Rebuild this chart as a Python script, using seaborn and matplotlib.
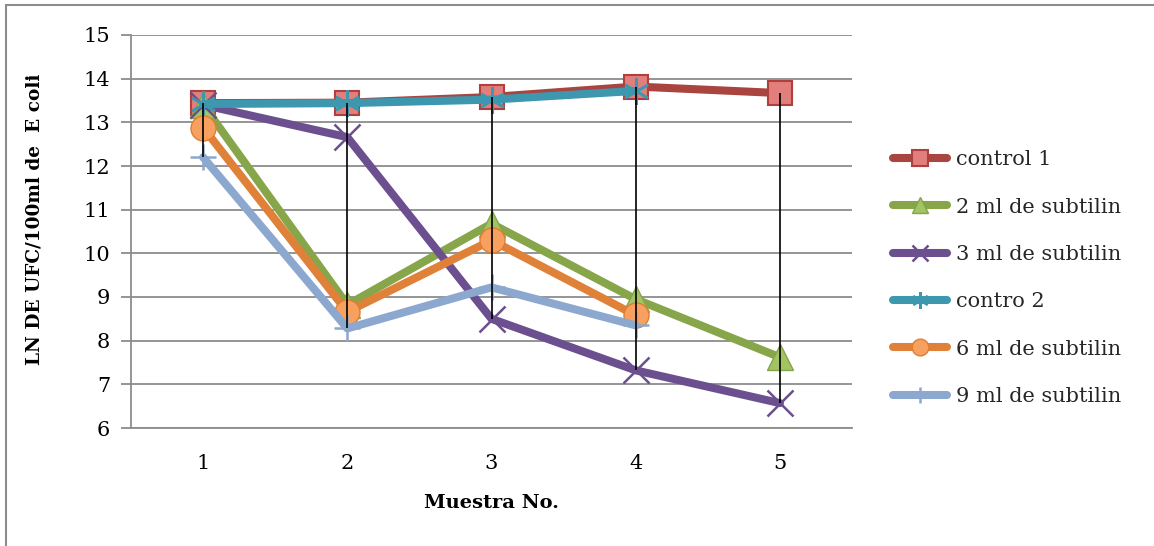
import numpy as np
import pandas as pd
import matplotlib
matplotlib.use("Agg")
import matplotlib.pyplot as plt
import matplotlib.patheffects as pe
from matplotlib.patches import Rectangle
import seaborn as sns

# Sample numbers on the x axis
muestra = [1, 2, 3, 4, 5]

# Natural log of E. coli counts (CFU / 100 ml) per treatment
control_1 = [13.44, 13.45, 13.58, 13.82, 13.67]
ml2_subtilin = [13.40, 8.82, 10.68, 8.95, 7.62]
ml3_subtilin = [13.40, 12.66, 8.50, 7.32, 6.57]
contro_2 = [13.42, 13.44, 13.52, 13.72]
ml6_subtilin = [12.88, 8.66, 10.30, 8.58]
ml9_subtilin = [12.20, 8.28, 9.22, 8.35]

series_names = ["control 1", "2 ml de subtilin", "3 ml de subtilin",
                "contro 2", "6 ml de subtilin", "9 ml de subtilin"]
series_values = [control_1, ml2_subtilin, ml3_subtilin,
                 contro_2, ml6_subtilin, ml9_subtilin]

y_ticks = list(range(6, 16))

rows = []
for name, vals in zip(series_names, series_values):
    for x, v in zip(muestra, vals):
        rows.append({"Muestra": x, "valor": v, "serie": name})
df = pd.DataFrame(rows)

sns.set_theme(style="white")
plt.rcParams["font.family"] = ["DejaVu Serif"]

styles = {
    "control 1":        dict(color="#A9443F", marker="s", ms=17, mfc="#E27F7C", mec="#B0403D", mew=1.5),
    "2 ml de subtilin": dict(color="#87A64A", marker="^", ms=19, mfc="#A2C463", mec="#86A44A", mew=1.0),
    "3 ml de subtilin": dict(color="#6B4F8E", marker="x", ms=19, mfc="none", mec="#6B4F8E", mew=1.8),
    "contro 2":         dict(color="#3D97AF", marker=(6, 2, 0), ms=19, mfc="none", mec="#3D97AF", mew=1.8),
    "6 ml de subtilin": dict(color="#E0813A", marker="o", ms=18, mfc="#F8A060", mec="#E07E30", mew=1.0),
    "9 ml de subtilin": dict(color="#8CA8CE", marker="+", ms=19, mfc="none", mec="#8CA8CE", mew=1.8),
}

fig = plt.figure(figsize=(11.54, 5.46), dpi=100)
ax = fig.add_axes([131 / 1154, 1 - 428 / 546, (852 - 131) / 1154, (428 - 35) / 546])

for i, name in enumerate(series_names):
    st = styles[name]
    sub = df[df["serie"] == name]
    sns.lineplot(data=sub, x="Muestra", y="valor", ax=ax, color=st["color"],
                 lw=5.8, marker=st["marker"], markersize=st["ms"],
                 markerfacecolor=st["mfc"], markeredgecolor=st["mec"],
                 markeredgewidth=st["mew"], label=name, zorder=3 + i,
                 solid_capstyle="round", solid_joinstyle="round")

# High-low lines spanning every series at each sample
wide = df.pivot(index="Muestra", columns="serie", values="valor")
ax.vlines(wide.index, wide.min(axis=1), wide.max(axis=1),
          color="black", lw=1.2, zorder=20)

ax.set_xlim(0.5, 5.5)
ax.set_ylim(6, 15)
ax.set_xticks(muestra)
ax.set_xticklabels([str(m) for m in muestra])
ax.set_yticks(y_ticks)
ax.set_yticklabels([str(t) for t in y_ticks])
ax.yaxis.grid(True, color="#8C8C8C", lw=1.3)
ax.xaxis.grid(False)
ax.set_axisbelow(True)

for side in ("top", "right"):
    ax.spines[side].set_visible(False)
for side in ("left", "bottom"):
    ax.spines[side].set_color("#8C8C8C")
    ax.spines[side].set_linewidth(1.3)

ax.tick_params(axis="y", which="major", left=True, length=7, width=1.3,
               color="#8C8C8C", labelsize=15, pad=8, labelcolor="black")
ax.tick_params(axis="x", which="major", bottom=False, labelsize=15, pad=13,
               labelcolor="black")

ax.set_xlabel("Muestra No.", fontsize=14, fontweight="bold", color="black")
ax.xaxis.set_label_coords(0.5, -0.167)
ax.set_ylabel("LN DE UFC/100ml de  E coli", fontsize=13.3, fontweight="bold",
              color="black")
ax.yaxis.set_label_coords(-0.121, 0.53)

leg = ax.legend(loc="upper left", bbox_to_anchor=(1.045, 0.728), frameon=False,
                fontsize=15, handlelength=2.6, handletextpad=0.45,
                labelspacing=1.36, borderaxespad=0)
for h in leg.legend_handles:
    h.set_markersize(12)

# Chart-area frame
fig.patches.append(Rectangle((6 / 1154, -0.05), 1.2, 1 - 5 / 546 + 0.05,
                             transform=fig.transFigure, fill=False,
                             edgecolor="#8C8C8C", lw=1.5))

fig.savefig("out.png", dpi=100, facecolor="white")
